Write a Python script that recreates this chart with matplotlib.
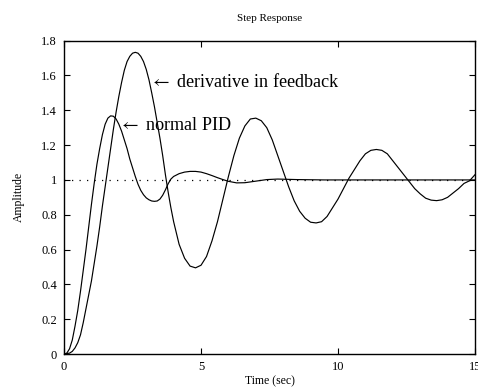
import matplotlib
matplotlib.use('Agg')
import matplotlib.pyplot as plt
from matplotlib.ticker import FormatStrFormatter

plt.rcParams['font.family'] = ['Liberation Serif', 'DejaVu Serif']
plt.rcParams['mathtext.fontset'] = 'stix'

# step response, normal PID
t_pid = [0, 0.1, 0.2, 0.3, 0.4, 0.5, 0.6, 0.7, 0.8, 0.9, 1.0, 1.1, 1.2, 1.3, 1.4,
         1.5, 1.6, 1.7, 1.8, 1.9, 2.0, 2.1, 2.2, 2.3, 2.4, 2.5, 2.6, 2.7, 2.8, 2.9,
         3.0, 3.1, 3.2, 3.3, 3.4, 3.5, 3.6, 3.7, 3.8, 3.9, 4.0, 4.2, 4.4, 4.6, 4.8,
         5.0, 5.2, 5.4, 5.6, 5.8, 6.0, 6.3, 6.6, 7.0, 7.4, 7.8, 8.5, 9.5, 15.0]
y_pid = [0, 0.005, 0.03, 0.08, 0.16, 0.25, 0.36, 0.48, 0.60, 0.73, 0.86, 0.98, 1.09,
         1.18, 1.26, 1.32, 1.355, 1.368, 1.366, 1.35, 1.32, 1.28, 1.23, 1.18, 1.12,
         1.07, 1.02, 0.975, 0.94, 0.915, 0.897, 0.886, 0.879, 0.877, 0.879, 0.89,
         0.912, 0.943, 0.978, 1.005, 1.02, 1.036, 1.045, 1.049, 1.049, 1.045, 1.036,
         1.025, 1.013, 1.002, 0.992, 0.983, 0.984, 0.993, 1.002, 1.005, 1.002, 1.0, 1.0]

# step response, derivative in feedback path
t_dfb = [0, 0.2, 0.3, 0.4, 0.5, 0.6, 0.7, 0.8, 0.9, 1.0, 1.1, 1.2, 1.3, 1.4, 1.5,
         1.6, 1.7, 1.8, 1.9, 2.0, 2.1, 2.2, 2.3, 2.4, 2.5, 2.6, 2.7, 2.8, 2.9, 3.0,
         3.1, 3.2, 3.3, 3.4, 3.5, 3.6, 3.7, 3.8, 3.9, 4.0, 4.2, 4.4, 4.6, 4.8, 5.0,
         5.2, 5.4, 5.6, 5.8, 6.0, 6.2, 6.4, 6.6, 6.8, 7.0, 7.2, 7.4, 7.6, 7.8, 8.0,
         8.2, 8.4, 8.6, 8.8, 9.0, 9.2, 9.4, 9.6, 9.8, 10.0, 10.2, 10.4, 10.6, 10.8,
         11.0, 11.2, 11.4, 11.6, 11.8, 12.0, 12.2, 12.4, 12.6, 12.8, 13.0, 13.2,
         13.4, 13.6, 13.8, 14.0, 14.2, 14.4, 14.6, 14.8, 15.0]
y_dfb = [0, 0.005, 0.015, 0.035, 0.065, 0.11, 0.18, 0.26, 0.34, 0.42, 0.52, 0.62,
         0.73, 0.85, 0.96, 1.07, 1.18, 1.29, 1.39, 1.48, 1.56, 1.63, 1.68, 1.71,
         1.728, 1.733, 1.728, 1.71, 1.68, 1.635, 1.575, 1.50, 1.42, 1.33, 1.24,
         1.14, 1.03, 0.93, 0.84, 0.76, 0.63, 0.55, 0.505, 0.495, 0.51, 0.56, 0.65,
         0.76, 0.89, 1.02, 1.14, 1.24, 1.31, 1.35, 1.355, 1.34, 1.30, 1.23, 1.14,
         1.05, 0.96, 0.88, 0.82, 0.78, 0.757, 0.753, 0.76, 0.79, 0.84, 0.89, 0.95,
         1.01, 1.06, 1.11, 1.15, 1.17, 1.175, 1.17, 1.15, 1.11, 1.07, 1.03, 0.99,
         0.95, 0.92, 0.895, 0.884, 0.881, 0.886, 0.90, 0.925, 0.95, 0.98, 0.995, 1.03]

fig = plt.figure(figsize=(4.78, 3.91), dpi=100)
ax = fig.add_axes([0.134, 0.0946, 0.8597, 0.8014])

ax.plot([0, 15], [1, 1], color='k', lw=0.9, linestyle=(0, (1, 5)))
ax.plot(t_pid, y_pid, color='k', lw=0.85)
ax.plot(t_dfb, y_dfb, color='k', lw=0.85)

ax.text(3.15, 1.565, r'$\leftarrow$ derivative in feedback', fontsize=13.1, va='center', ha='left')
ax.text(2.0, 1.313, r'$\leftarrow$ normal PID', fontsize=13.1, va='center', ha='left')

ax.set_xlim(0, 15)
ax.set_ylim(0, 1.8)
ax.set_xticks([0, 5, 10, 15])
ax.set_yticks([0, 0.2, 0.4, 0.6, 0.8, 1.0, 1.2, 1.4, 1.6, 1.8])
ax.yaxis.set_major_formatter(FormatStrFormatter('%g'))
ax.tick_params(direction='in', length=4, width=0.8, labelsize=9,
               top=True, right=True, pad=5)
for s in ax.spines.values():
    s.set_linewidth(1.0)

ax.set_title('Step Response', fontsize=8, pad=14)
ax.set_xlabel('Time (sec)', fontsize=8.5, labelpad=2)
ax.set_ylabel('Amplitude', fontsize=8.5, labelpad=12)

fig.savefig('out.png', dpi=100)
